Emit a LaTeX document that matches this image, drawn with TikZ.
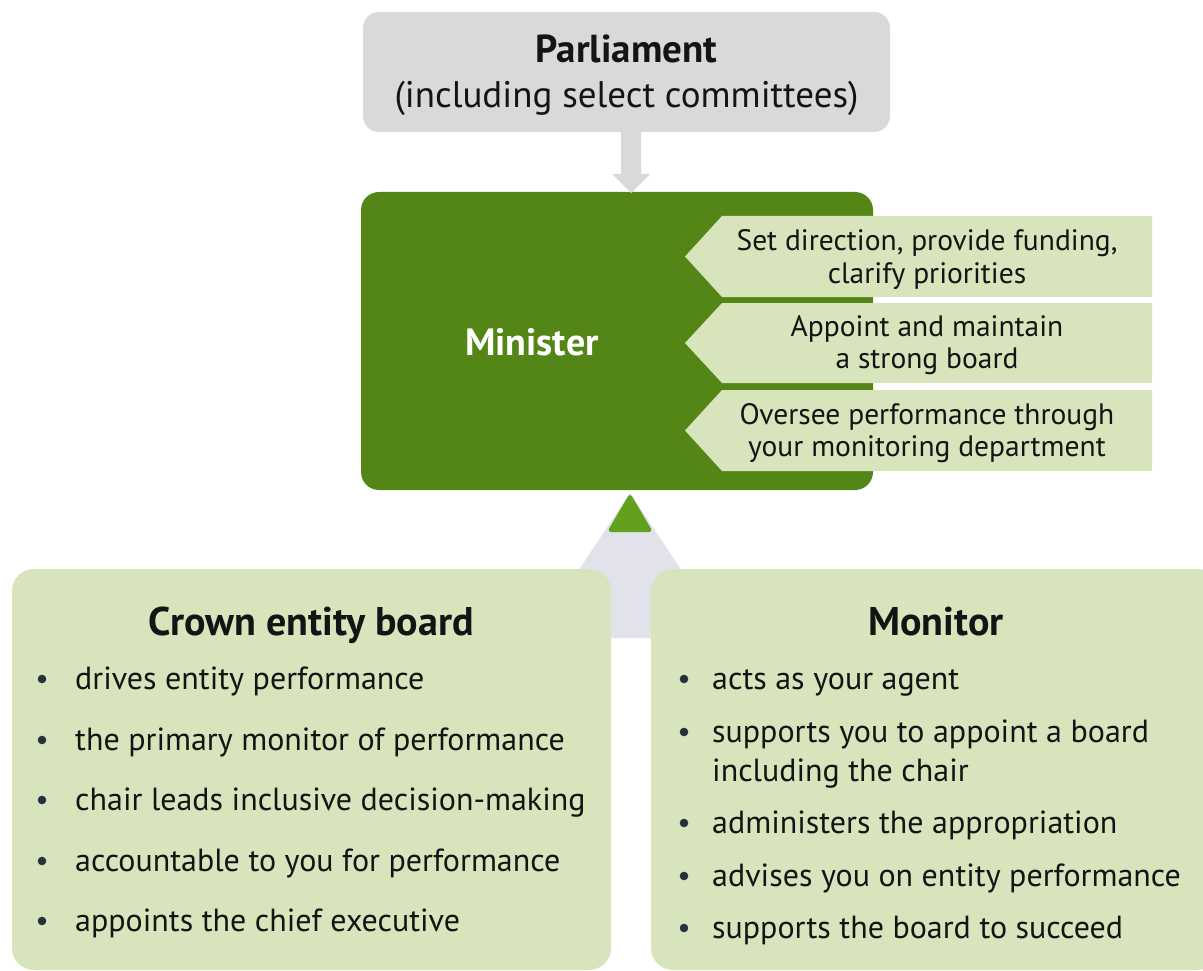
\documentclass[tikz,border=0pt]{standalone}
\usepackage{fontspec}
\setmainfont{PT Sans}
\usetikzlibrary{calc}
\definecolor{parlgray}{RGB}{217,217,217}
\definecolor{mingreen}{RGB}{83,134,22}
\definecolor{palegreen}{RGB}{215,228,188}
\definecolor{tipgreen}{RGB}{98,160,30}
\definecolor{haze}{RGB}{226,226,234}
\definecolor{ink}{RGB}{20,20,20}
\definecolor{dotcol}{RGB}{40,48,62}
\begin{document}
\begin{tikzpicture}[x=1pt,y=-1pt,
  txt/.style={inner sep=0pt, anchor=base, text=ink},
  chevtxt/.style={txt, font=\fontsize{29.5}{34}\selectfont},
  item/.style={inner sep=0pt, anchor=base west, text=ink, font=\fontsize{32}{38}\selectfont},
  headbold/.style={font=\fontsize{40}{46}\selectfont\bfseries},
  chevron/.style={fill=palegreen},
  panel/.style={fill=palegreen, rounded corners=22pt},
  dot/.style={fill=dotcol}
]
\useasboundingbox (0,0) rectangle (1203,971);

% Parliament box
\node[fill=parlgray, rounded corners=16pt, minimum width=527pt, minimum height=120pt, inner sep=0pt] (parl) at (626.5,72) {};
\node[txt, font=\fontsize{39}{46}\selectfont\bfseries] (parlname) at (626.5,63) {Parliament};
\node[txt, font=\fontsize{37}{44}\selectfont] (parlsub) at (626.5,108) {(including select committees)};

% Minister box
\node[fill=mingreen, rounded corners=18pt, minimum width=512pt, minimum height=298pt, inner sep=0pt] (min) at (617,341) {};
\node[txt, font=\fontsize{38}{44}\selectfont\bfseries, text=white] (minname) at (532,355) {Minister};

% Arrow from Parliament down to the Minister
\coordinate (arrtop) at (631,132);
\coordinate (arrtip) at (631,193);
\fill[parlgray] ($(arrtop)+(-10,0)$) -- ($(arrtop)+(10,0)$) -- ($(arrtop)+(10,42)$)
  -- ($(arrtop)+(19,42)$) -- (arrtip) -- ($(arrtop)+(-19,42)$) -- ($(arrtop)+(-10,42)$) -- cycle;

% Role chevrons pointing into the Minister box
\foreach \top/\bot in {216/297, 303/383, 390/471}{
  \fill[chevron] (685,{(\top+\bot)/2}) -- (722,\top) -- (1152,\top) -- (1152,\bot) -- (722,\bot) -- cycle;
}
\node[chevtxt] (c1a) at (927,251) {Set direction, provide funding,};
\node[chevtxt] (c1b) at (927,283) {clarify priorities};
\node[chevtxt] (c2a) at (927,336) {Appoint and maintain};
\node[chevtxt] (c2b) at (927,368) {a strong board};
\node[chevtxt] (c3a) at (927,424) {Oversee performance through};
\node[chevtxt] (c3b) at (927,456) {your monitoring department};

% Upward arrow from the two panels to the Minister
\fill[haze] (630,493) -- (680,568) -- (680,638) -- (580,638) -- (580,568) -- cycle;
\fill[tipgreen, rounded corners=4pt] (630,493) -- (653,532) -- (607,532) -- cycle;

% Crown entity board panel
\node[panel, minimum width=599pt, minimum height=401pt, inner sep=0pt] (board) at (311.5,769.5) {};
\node[txt, headbold] (boardtitle) at (311,635) {Crown entity board};
\foreach \y/\t [count=\i] in {689/drives entity performance,
                              750/the primary monitor of performance,
                              810/chair leads inclusive decision-making,
                              871/accountable to you for performance,
                              931/appoints the chief executive}{
  \fill[dot] (42,\y-10) circle (4.3pt);
  \node[item] (b\i) at (75,\y) {\t};
}

% Monitor panel
\node[panel, minimum width=569pt, minimum height=401pt, inner sep=0pt] (mon) at (935.5,769.5) {};
\node[txt, headbold] (montitle) at (936,635) {Monitor};
\foreach \y in {689,742,833,886,938}{
  \fill[dot] (684,\y-10) circle (4.3pt);
}
\node[item] (m1) at (712,689) {acts as your agent};
\node[item] (m2) at (712,742) {supports you to appoint a board};
\node[item] (m2b) at (712,781) {including the chair};
\node[item] (m3) at (712,833) {administers the appropriation};
\node[item] (m4) at (712,886) {advises you on entity performance};
\node[item] (m5) at (712,938) {supports the board to succeed};
\end{tikzpicture}
\end{document}
